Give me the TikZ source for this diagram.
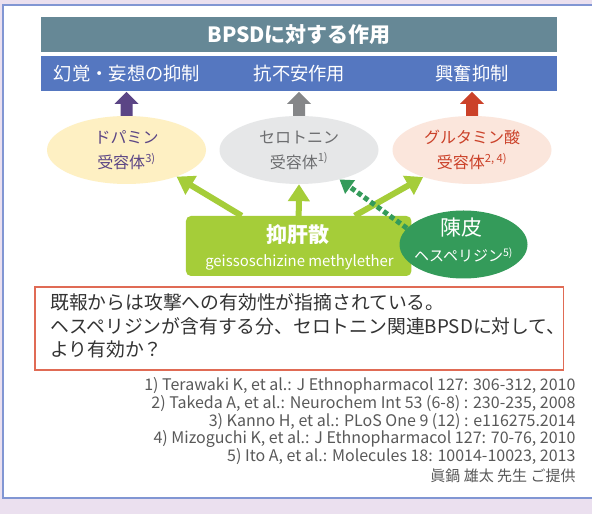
\documentclass[tikz,border=0pt]{standalone}
\usepackage{fontspec}
\setmainfont{Noto Sans CJK JP}
\usetikzlibrary{arrows.meta,shapes.geometric,calc}
\definecolor{bgl}{HTML}{EBE0EF}
\definecolor{panelb}{HTML}{8196D3}
\definecolor{titlec}{HTML}{668896}
\definecolor{barc}{HTML}{5577C0}
\definecolor{purp}{HTML}{5B4585}
\definecolor{grya}{HTML}{858688}
\definecolor{grytxt}{HTML}{6D6E70}
\definecolor{redc}{HTML}{CB4129}
\definecolor{yel}{HTML}{FEF0C3}
\definecolor{gryf}{HTML}{E6E7E8}
\definecolor{peach}{HTML}{FBE6DC}
\definecolor{lgreen}{HTML}{A5CD39}
\definecolor{dgreen}{HTML}{349B5A}
\definecolor{boxred}{HTML}{E06B55}
\definecolor{dtext}{HTML}{333333}
\definecolor{reftext}{HTML}{595959}
\newcommand\blkarrow[2]{%
  \fill[#2] ($(#1)+(-6,0)$) -- ++(0,12) -- ++(-6,0) -- ++(12,12) -- ++(12,-12) -- ++(-6,0) -- ++(0,-12) -- cycle;}
\tikzset{
  barbox/.style={rectangle,inner sep=0pt,minimum width=515.5pt,minimum height=34.7pt},
  bartext/.style={text=white,font=\fontsize{18.3}{20}\selectfont},
  recep/.style={ellipse,inner sep=0pt,minimum width=159pt,minimum height=68pt,align=center,font=\fontsize{16}{25}\selectfont},
  garrow/.style={line width=6pt,color=lgreen,-{Triangle[width=21pt,length=17pt]}},
  darrow/.style={line width=5pt,color=dgreen,dash pattern=on 5pt off 3pt,-{Triangle[width=16pt,length=13pt]}},
  reftxt/.style={anchor=base east,inner sep=0pt,text=reftext,font=\fontsize{16}{18}\selectfont},
  qtxt/.style={anchor=base west,inner sep=0pt,text=dtext,font=\fontsize{18.8}{20}\selectfont}
}
\begin{document}
\begin{tikzpicture}[x=1pt,y=1pt]
\useasboundingbox (0,0) rectangle (592,514);
\clip (0,0) rectangle (592,514);
\fill[bgl] (0,0) rectangle (592,514);
\draw[panelb,line width=2pt,fill=white] (2.5,16) rectangle (620,509);
% bars
\node[barbox,fill=titlec] (title) at (299.2,479.7) {};
\node[text=white,font=\bfseries\fontsize{21}{23}\selectfont] (titlet) at (title.center) {BPSDに対する作用};
\node[barbox,fill=barc] (bar) at (299.2,440.7) {};
\node[bartext] (e1) at (127,440.7) {幻覚・妄想の抑制};
\node[bartext] (e2) at (299.5,440.7) {抗不安作用};
\node[bartext] (e3) at (472,440.7) {興奮抑制};
% receptors
\node[recep,fill=yel,text=purp] (dop) at (126.5,364) {ドパミン\\受容体\textsuperscript{3)}};
\node[recep,fill=gryf,text=grytxt] (ser) at (299,364) {セロトニン\\受容体\textsuperscript{1)}};
\node[recep,fill=peach,text=redc] (glu) at (472,364) {グルタミン酸\\受容体\textsuperscript{2, 4)}};
% block arrows
\blkarrow{dop.north}{purp}
\blkarrow{ser.north}{grya}
\blkarrow{glu.north}{redc}
% yokukansan box
\node[rectangle,rounded corners=5pt,fill=lgreen,inner sep=0pt,minimum width=225.5pt,minimum height=60pt] (yks) at (298.7,268) {};
\node[text=white,font=\bfseries\fontsize{21}{23}\selectfont] (yks1) at (298,279) {抑肝散};
\node[text=white,font=\fontsize{14.9}{16}\selectfont] (yks2) at (299.5,252) {geissoschizine methylether};
\draw[garrow] ($(yks.north)+(-57,0)$) -- (dop.-28);
\draw[garrow] (yks.north) -- (ser.south);
\draw[garrow] ($(yks.north)+(56,0)$) -- (glu.-151);
% chenpi
\node[ellipse,fill=dgreen,inner sep=0pt,minimum width=128pt,minimum height=68pt] (chp) at (463.5,269.5) {};
\node[text=white,font=\fontsize{21}{23}\selectfont] (chp1) at (461.5,286) {陳皮};
\node[text=white,font=\fontsize{15}{17}\selectfont] (chp2) at (463.5,259) {ヘスペリジン\textsuperscript{5)}};
\draw[darrow] (chp.164) -- (ser.-36);
% question box
\node[rectangle,draw=boxred,line width=1.3pt,fill=white,inner sep=0pt,minimum width=528.6pt,minimum height=83pt] (qbox) at (299.3,185.5) {};
\node[qtxt] (q1) at (50,204.2) {既報からは攻撃への有効性が指摘されている。};
\node[qtxt] (q2) at (50,180.2) {ヘスペリジンが含有する分、セロトニン関連BPSDに対して、};
\node[qtxt] (q3) at (50,157.2) {より有効か？};
% references
\node[reftxt] (r1) at (575.7,123.3) {1) Terawaki K, et al.: J Ethnopharmacol 127: 306-312, 2010};
\node[reftxt] (r2) at (575.7,105.7) {2) Takeda A, et al.: Neurochem Int 53 (6-8) : 230-235, 2008};
\node[reftxt] (r3) at (575.7,87.3) {3) Kanno H, et al.: PLoS One 9 (12) : e116275.2014};
\node[reftxt] (r4) at (575.7,70) {4) Mizoguchi K, et al.: J Ethnopharmacol 127: 70-76, 2010};
\node[reftxt] (r5) at (575.7,52.3) {5) Ito A, et al.: Molecules 18: 10014-10023, 2013};
\node[reftxt,font=\fontsize{15}{17}\selectfont] (r6) at (575.7,32.3) {眞鍋 雄太 先生 ご提供};
\end{tikzpicture}
\end{document}
